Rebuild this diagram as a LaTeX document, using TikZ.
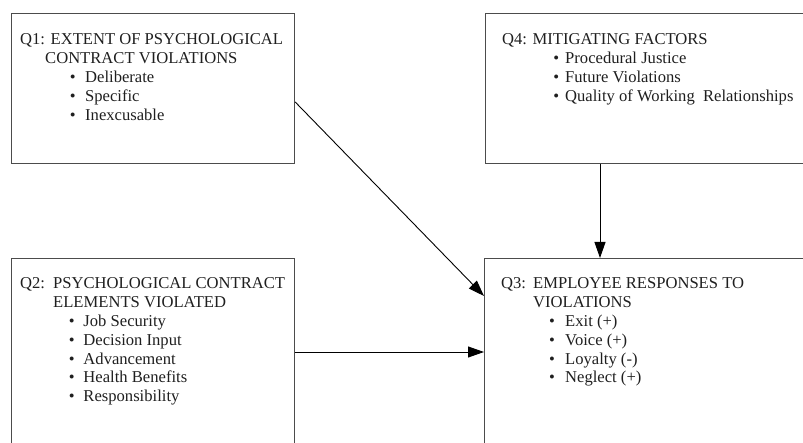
\documentclass[tikz,border=0pt]{standalone}
\usepackage{fontspec}
\setmainfont{Liberation Serif}
\usetikzlibrary{arrows.meta}

% bullet centred at #1 from the line start, item text #2 further right
\newcommand{\bitem}[3]{\hspace*{#1}\makebox[0pt]{\textbullet}\hspace*{#2}#3}
% lines of a box, with the first line's baseline as the node's baseline
\newenvironment{qlines}{\begin{tabular}[t]{@{}l@{}}}{\end{tabular}}

\tikzset{
  qbox/.style={draw=black!70, line width=1.2pt, rectangle, inner sep=0pt, anchor=north west},
  qtext/.style={anchor=base west, inner sep=0pt, text=black!88,
    font=\fontsize{16.6}{18.8}\selectfont},
  arr/.style={draw=black, line width=0.9pt, -{Triangle[length=16pt,width=11pt]}}
}

\begin{document}
\begin{tikzpicture}[x=1pt,y=-1pt]
\useasboundingbox (0,0) rectangle (803,443);
\clip (0,0) rectangle (803,443);

% the four question boxes (right and bottom ones run off the page)
\node[qbox, minimum width=283pt, minimum height=150pt] (q1) at (11,13) {};
\node[qbox, minimum width=330pt, minimum height=150pt] (q4) at (485,13) {};
\node[qbox, minimum width=283pt, minimum height=200pt] (q2) at (11,258) {};
\node[qbox, minimum width=330pt, minimum height=200pt] (q3) at (484,258) {};

% box contents
\node[qtext] (t1) at (20,45) {\begin{qlines}Q1: EXTENT OF PSYCHOLOGICAL\\
  \hspace*{25pt}CONTRACT VIOLATIONS\\
  \bitem{52.7pt}{12.3pt}{Deliberate}\\
  \bitem{52.7pt}{12.3pt}{Specific}\\
  \bitem{52.7pt}{12.3pt}{Inexcusable}\end{qlines}};

\node[qtext] (t4) at (502,45) {\begin{qlines}Q4: MITIGATING FACTORS\\
  \bitem{54pt}{9pt}{Procedural Justice}\\
  \bitem{54pt}{9pt}{Future Violations}\\
  \bitem{54pt}{9pt}{Quality of Working~ Relationships}\end{qlines}};

\node[qtext] (t2) at (20,289) {\begin{qlines}\makebox[33pt][l]{Q2:}PSYCHOLOGICAL CONTRACT\\
  \hspace*{33pt}ELEMENTS VIOLATED\\
  \bitem{51.7pt}{11.6pt}{Job Security}\\
  \bitem{51.7pt}{11.6pt}{Decision Input}\\
  \bitem{51.7pt}{11.6pt}{Advancement}\\
  \bitem{51.7pt}{11.6pt}{Health Benefits}\\
  \bitem{51.7pt}{11.6pt}{Responsibility}\end{qlines}};

\node[qtext] (t3) at (501,289) {\begin{qlines}\makebox[32pt][l]{Q3:}EMPLOYEE RESPONSES TO\\
  \hspace*{32pt}VIOLATIONS\\
  \bitem{50.7pt}{13.3pt}{Exit (+)}\\
  \bitem{50.7pt}{13.3pt}{Voice (+)}\\
  \bitem{50.7pt}{13.3pt}{Loyalty (-)}\\
  \bitem{50.7pt}{13.3pt}{Neglect (+)}\end{qlines}};

% connectors into Q3
\draw[arr] ([yshift=-89pt]q1.north east) -- ([yshift=-38pt]q3.north west);
\draw[arr] ([yshift=-94pt]q2.north east) -- ([yshift=-94pt]q3.north west);
\draw[arr] ([xshift=115pt]q4.south west) -- ([xshift=116pt]q3.north west);
\end{tikzpicture}
\end{document}
